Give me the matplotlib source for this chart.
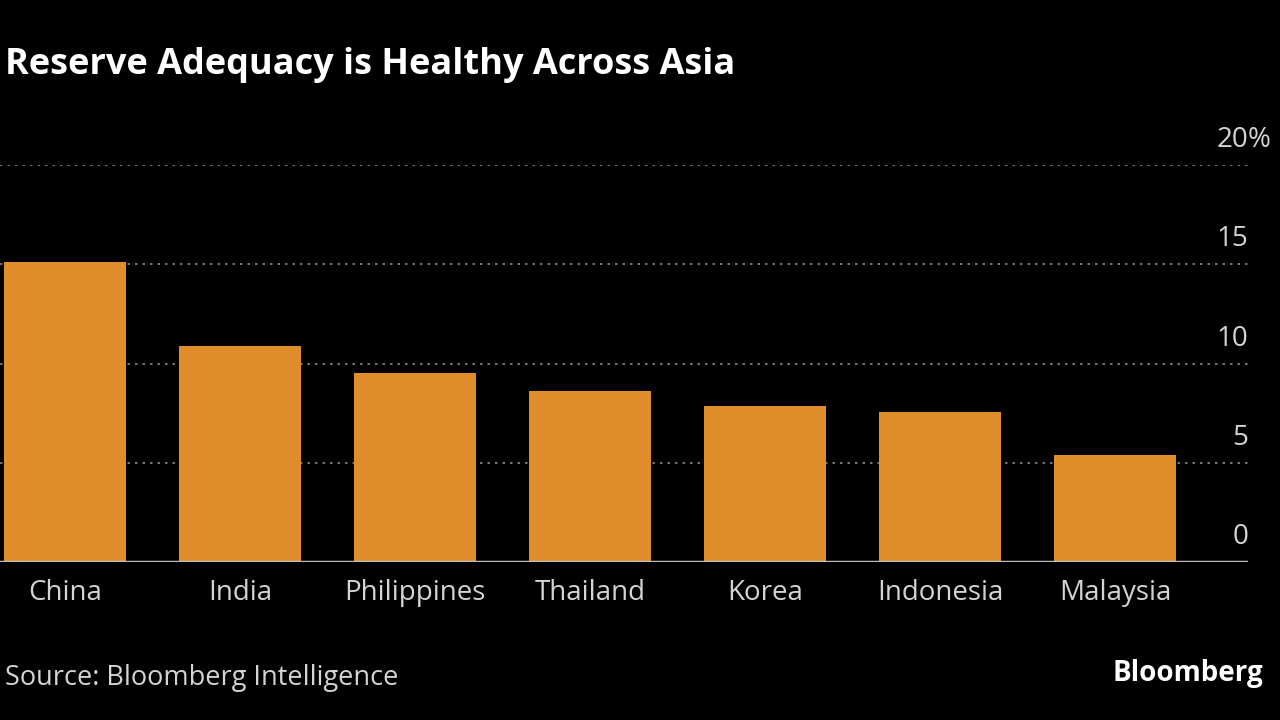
import matplotlib.pyplot as plt
from matplotlib import font_manager
import matplotlib.transforms as mtransforms

countries = ["China", "India", "Philippines", "Thailand", "Korea", "Indonesia", "Malaysia"]
reserves = [15.1, 10.9, 9.5, 8.6, 7.85, 7.55, 5.4]
yticks = [0, 5, 10, 15, 20]

names = {f.name for f in font_manager.fontManager.ttflist}
fam = "Liberation Sans Narrow" if "Liberation Sans Narrow" in names else "Open Sans"
plt.rcParams['font.family'] = [fam, 'DejaVu Sans']

bar_col = "#e08e2b"
txt_col = "#d4d4d4"

fig = plt.figure(figsize=(12.8, 7.2), dpi=100, facecolor="black")
ax = fig.add_axes([0.0, 1 - 562 / 720, 1248 / 1280, (562 - 165) / 720])
ax.set_facecolor("black")

x = list(range(len(countries)))
ax.bar(x, reserves, width=0.697, color=bar_col, zorder=2)
ax.set_xlim(-0.374, 6.76)
ax.set_ylim(0, 20)

for t in yticks[1:]:
    ax.axhline(t, color="#8a8a8a", lw=1.2, ls=(0, (1.5, 3)), zorder=1)
ax.axhline(0, color="#bdbdbd", lw=2.5, zorder=3)

for s in ax.spines.values():
    s.set_visible(False)
ax.set_yticks([])
ax.set_xticks(x)
ax.set_xticklabels(countries, fontsize=20, color=txt_col)
ax.tick_params(axis="x", length=0, pad=12)

# y labels sit above the gridlines, right aligned
off = mtransforms.offset_copy(ax.get_yaxis_transform(), fig=fig, x=0, y=11, units="dots")
for t in yticks:
    ax.text(1.0, t, str(t), transform=off, ha="right", va="bottom",
            fontsize=20, color=txt_col)
ax.text(1.0, 20, "%", transform=off, ha="left", va="bottom", fontsize=20, color=txt_col)

fig.text(5 / 1280, 1 - 65 / 720, "Reserve Adequacy is Healthy Across Asia",
         fontsize=26, fontweight="bold", color="white", ha="left", va="center")
fig.text(5 / 1280, 1 - 678 / 720, "Source: Bloomberg Intelligence",
         fontsize=19.5, color=txt_col, ha="left", va="center")
fig.text(1263 / 1280, 1 - 673 / 720, "Bloomberg",
         fontsize=20, fontweight="bold", color="white", ha="right", va="center")

fig.savefig("out.png", dpi=100, facecolor="black")
